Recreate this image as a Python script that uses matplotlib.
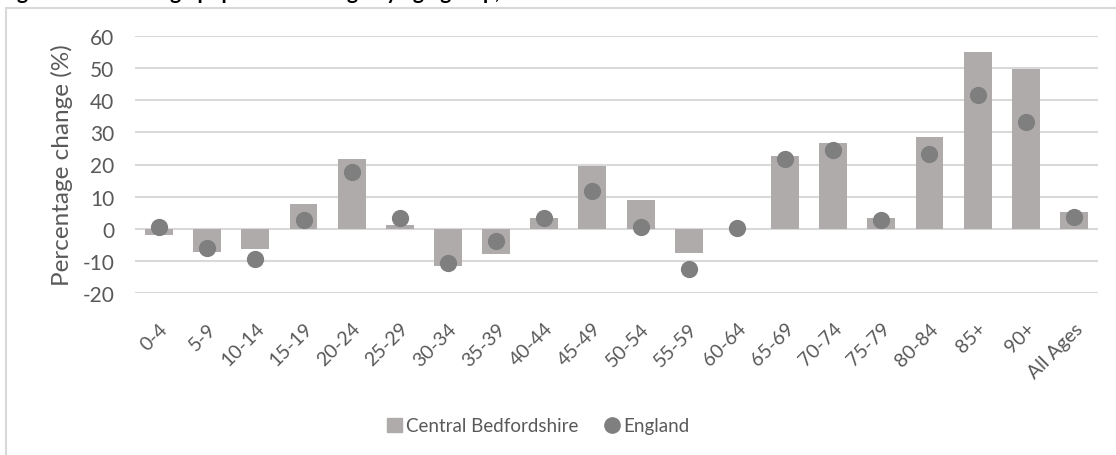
"""
Percentage population change by age group - Central Bedfordshire vs England
"""

import matplotlib
matplotlib.use("Agg")
import matplotlib.pyplot as plt
from matplotlib.patches import Rectangle
from matplotlib.lines import Line2D
import numpy as np

age_groups = ["0-4", "5-9", "10-14", "15-19", "20-24", "25-29", "30-34", "35-39",
              "40-44", "45-49", "50-54", "55-59", "60-64", "65-69", "70-74",
              "75-79", "80-84", "85+", "90+", "All Ages"]
central_beds = [-1.8, -7.2, -6.4, 7.6, 21.6, 1.2, -11.6, -7.8, 3.3, 19.4, 9.0,
                -7.7, 0.0, 22.7, 26.6, 3.2, 28.7, 55.1, 49.6, 5.2]
england = [0.6, -6.1, -9.3, 2.8, 17.8, 3.2, -10.6, -3.8, 3.2, 11.6, 0.5,
           -12.5, 0.1, 21.6, 24.5, 2.7, 23.4, 41.7, 33.2, 3.6]
y_ticks = [-20, -10, 0, 10, 20, 30, 40, 50, 60]

title = "Figure 3: Percentage population change by age group, 2011-2021"

BAR = "#AFABAB"
DOT = "#7F7F7F"
TXT = "#595959"
GRID = "#D9D9D9"

plt.rcParams['font.family'] = ['Lato', 'DejaVu Sans']
plt.rcParams['axes.unicode_minus'] = False

W, H = 1116, 456
fig = plt.figure(figsize=(W / 100, H / 100), dpi=100)

# chart border (light grey frame, Excel style)
fig.patches.append(Rectangle((6 / W, -0.02), 1.2, 1 - 9 / H + 0.02,
                             transform=fig.transFigure, fill=False,
                             edgecolor=GRID, linewidth=1.5))

# title sits mostly above the image edge, like the cropped original
fig.text(0.0, 1 + 1 / H, title, fontsize=15, fontweight='bold', color='black',
         ha='left', va='baseline')

# plot area: x 135..1098, y 37..294 (pixels from top)
ax = fig.add_axes([135 / W, 1 - 294 / H, (1098 - 135) / W, (294 - 37) / H])

x = np.arange(len(age_groups))
ax.bar(x, central_beds, width=0.58, color=BAR, zorder=2)
ax.scatter(x, england, s=130, color=DOT, zorder=3)

ax.set_xlim(-0.5, len(age_groups) - 0.5)
ax.set_ylim(-20, 60)
ax.set_yticks(y_ticks)
ax.yaxis.grid(True, color=GRID, linewidth=1.5, zorder=0)
ax.set_axisbelow(True)
for s in ax.spines.values():
    s.set_visible(False)
ax.tick_params(axis='both', length=0, colors=TXT)
ax.tick_params(axis='y', labelsize=15, pad=15)
ax.set_xticks(x)
ax.set_xticklabels(age_groups, rotation=45, ha='right', rotation_mode='anchor',
                   fontsize=14)
ax.tick_params(axis='x', pad=19)
ax.set_ylabel("Percentage change (%)", fontsize=17.5, color=TXT, labelpad=7)

handles = [
    Rectangle((0, 0), 1, 1, color=BAR),
    Line2D([], [], marker='o', linestyle='none', color=DOT, markersize=11),
]
fig.legend(handles, ["Central Bedfordshire", "England"], loc='center',
           bbox_to_anchor=(538 / W, 1 - 427 / H), ncol=2, frameon=False,
           fontsize=13.5, labelcolor=TXT, handlelength=0.8, handletextpad=0.2,
           columnspacing=1.4)

fig.savefig("out.png", dpi=100)
